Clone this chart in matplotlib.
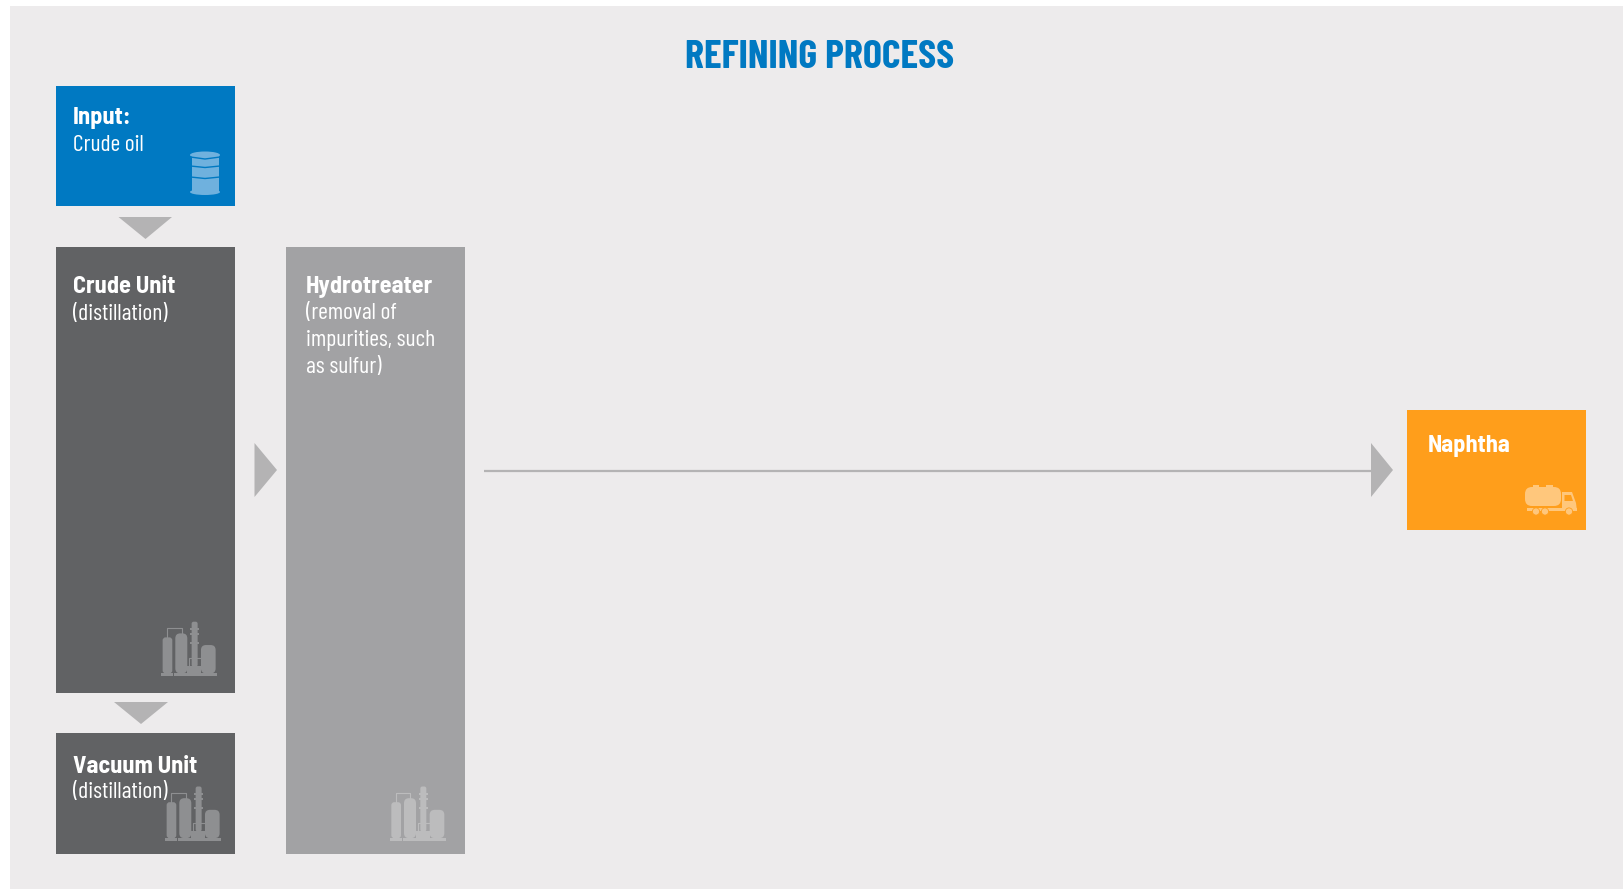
import matplotlib
matplotlib.use("Agg")
import matplotlib.pyplot as plt
from matplotlib.patches import Rectangle, Polygon, Ellipse, Circle, FancyBboxPatch

W, H = 1623, 889
FONT = ["Barlow Condensed", "Archivo Narrow", "Roboto", "DejaVu Sans"]
FONT_BOLD = ["Barlow Semi Condensed", "Barlow Condensed", "Roboto", "DejaVu Sans"]

BG = "#edebec"
BLUE = "#0079c2"
DARK = "#616264"
MID = "#a2a2a4"
ORANGE = "#ff9e1b"
ARROW = "#b4b3b4"

title = "REFINING PROCESS"

# boxes: x0, y0, x1, y1 in image pixels
box_names = ["input", "crude", "vacuum", "hydro", "naphtha"]
box_x0 = [56, 56, 56, 286, 1407]
box_y0 = [86, 247, 733, 247, 410]
box_x1 = [235, 235, 235, 465, 1586]
box_y1 = [206, 693, 854, 854, 530]
box_colors = [BLUE, DARK, DARK, MID, ORANGE]

# text: x, baseline y, string, bold
text_x = [73, 73, 73, 73, 73, 73, 305.5, 305.5, 305.5, 305.5, 1428]
text_y = [124, 151, 293, 320.5, 773, 798.5, 293, 319, 346, 373, 452]
text_s = ["Input:", "Crude oil", "Crude Unit", "(distillation)", "Vacuum Unit",
          "(distillation)", "Hydrotreater", "(removal of", "impurities, such",
          "as sulfur)", "Naphtha"]
text_b = [True, False, True, False, True, False, True, False, False, False, True]

# arrows
tri_down = [(118.5, 217, 172, 217, 145.5, 239), (114, 702, 168, 702, 141, 724)]
tri_right = [(254.5, 443, 254.5, 497, 277, 470), (1371, 443, 1371, 497, 1393, 470)]
line_x = [484, 1372]
line_y = [471, 471]

fig = plt.figure(figsize=(W / 100, H / 100), dpi=100, facecolor="white")
ax = fig.add_axes([0, 0, 1, 1])
ax.set_xlim(0, W)
ax.set_ylim(H, 0)
ax.axis("off")

ax.add_patch(Rectangle((10, 6), W - 10, H - 6, fc=BG, ec="none"))

for x0, y0, x1, y1, c in zip(box_x0, box_y0, box_x1, box_y1, box_colors):
    ax.add_patch(Rectangle((x0, y0), x1 - x0, y1 - y0, fc=c, ec="none"))

for t in tri_down + tri_right:
    ax.add_patch(Polygon([t[:2], t[2:4], t[4:6]], fc=ARROW, ec="none"))
ax.plot(line_x, line_y, color=ARROW, lw=1.6, solid_capstyle="butt")

ax.text(819.5, 68, title, family=FONT, weight="bold", size=29, color=BLUE,
        ha="center", va="baseline")
for x, y, s, b in zip(text_x, text_y, text_s, text_b):
    ax.text(x, y, s, family=FONT_BOLD if b else FONT, weight="bold" if b else "normal",
            size=17.5 if b else 17, color="white", ha="left", va="baseline", zorder=2)


def rounded(x0, y0, x1, y1, r, c, z=3):
    ax.add_patch(FancyBboxPatch((x0 + r, y0 + r), x1 - x0 - 2 * r, y1 - y0 - 2 * r,
                                boxstyle=f"round,pad={r},rounding_size={r}",
                                fc=c, ec="none", zorder=z))


def rect(x0, y0, x1, y1, c, z=3):
    ax.add_patch(Rectangle((x0, y0), x1 - x0, y1 - y0, fc=c, ec="none", zorder=z))


def refinery(ox, oy, c):
    # shapes measured from a 3x crop
    def p(v, o):
        return o + v / 3
    rect(p(0, ox), p(153, oy), p(36, ox), p(163, oy), c)
    rect(p(38, ox), p(153, oy), p(167, ox), p(163, oy), c)
    rounded(p(4, ox), p(47, oy), p(33, ox), p(155, oy), 3, c)
    rounded(p(42, ox), p(35, oy), p(78, ox), p(155, oy), 5, c)
    rounded(p(91, ox), p(0, oy), p(109, ox), p(135, oy), 2, c)
    for rib in (20, 35, 60):
        rect(p(86, ox), p(rib, oy), p(114, ox), p(rib + 6, oy), c)
    rounded(p(119, ox), p(70, oy), p(163, ox), p(155, oy), 5, c)
    rect(p(78, ox), p(133, oy), p(119, ox), p(155, oy), c)
    ax.plot([p(17, ox), p(17, ox), p(61, ox), p(61, ox)],
            [p(47, oy), p(20, oy), p(20, oy), p(35, oy)], color=c, lw=0.8, zorder=3)
    ax.plot([p(84, ox), p(84, ox), p(119, ox)],
            [p(133, oy), p(110, oy), p(110, oy)], color=c, lw=0.8, zorder=3)


refinery(161.3, 621.7, "#8e8f91")
refinery(165.3, 786.5, "#8e8f91")
refinery(390, 786.5, "#bcbcbd")

# barrel
BARREL = "#6fb1de"
rect(191.5, 155, 219, 192, BARREL)
ax.add_patch(Ellipse((205, 155), 30, 7, fc=BARREL, ec="none", zorder=3))
ax.add_patch(Ellipse((205, 192), 30, 6, fc=BARREL, ec="none", zorder=3))
for by in (167, 178):
    ax.plot([190.5, 205, 220], [by - 1, by + 0.5, by - 1], color=BLUE, lw=1, zorder=4)
ax.plot([190.5, 205, 220], [157, 159, 157], color=BLUE, lw=1, zorder=4)

# truck
TRUCK = "#ffc77c"
rounded(1525, 487, 1561, 506, 7, TRUCK)
rect(1533, 485, 1539, 489, TRUCK)
rect(1546, 485, 1553, 489, TRUCK)
ax.add_patch(Polygon([(1562, 492), (1572, 492), (1576, 503), (1577, 511), (1562, 511)],
                     fc=TRUCK, ec="none", zorder=3))
ax.add_patch(Polygon([(1564.5, 495), (1571, 495), (1573, 501), (1564.5, 501)],
                     fc=ORANGE, ec="none", zorder=4))
rect(1527, 508, 1577, 511, TRUCK)
for wx in (1536, 1545, 1569):
    ax.add_patch(Circle((wx, 511.5), 3.6, fc=TRUCK, ec=ORANGE, lw=0.6, zorder=5))

fig.savefig("out.png", dpi=100, facecolor="white")
